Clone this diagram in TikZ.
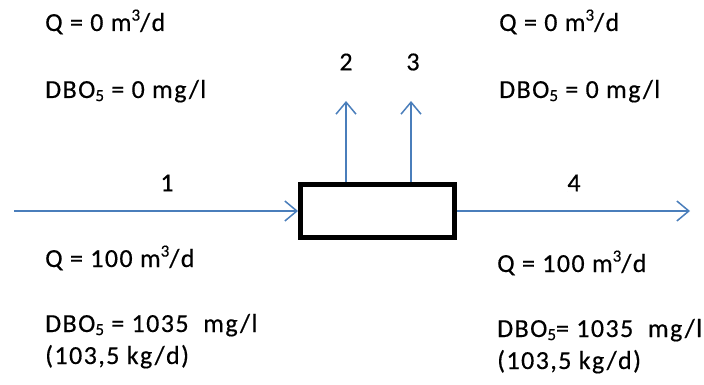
\documentclass[tikz,border=0pt]{standalone}
\usepackage{fontspec}
\setmainfont{Carlito}[LetterSpace=5.5, FakeBold=0.4]
\usetikzlibrary{arrows.meta}
\definecolor{flow}{HTML}{4A7EBB}
\newcommand{\supthree}{\raisebox{0.40em}{\fontsize{17}{18}\selectfont 3}}
\newcommand{\subfive}{\raisebox{-0.12em}{\fontsize{17}{18}\selectfont 5}}
\begin{document}
\begin{tikzpicture}[x=1pt,y=-1pt,
  lbl/.style={font=\fontsize{26}{30}\selectfont, inner sep=0, anchor=base west},
  num/.style={font=\fontsize{26}{30}\selectfont, inner sep=0},
  flowline/.style={draw=flow, line width=1.5pt, -{Straight Barb[length=12pt,width=20pt,line width=1.5pt]}},
  tank/.style={draw=black, line width=5pt, minimum width=154pt, minimum height=53pt, inner sep=0, fill=white}]
\useasboundingbox (0,0) rectangle (704,385);
% process box
\node[tank] (box) at (377.5,211) {};
% free ends
\coordinate (in) at (14,211);
\coordinate (out) at (690,211);
\coordinate (t2) at (346,101);
\coordinate (t3) at (411,101);
% connectors
\draw[flowline] (in) -- (box.west);
\draw[flowline] (box.east) -- (out);
\draw[flowline] (box.north -| t2) -- (t2);
\draw[flowline] (box.north -| t3) -- (t3);
% stream numbers
\node[num] (n1) at (167,183) {1};
\node[num] (n2) at (346,62) {2};
\node[num] (n3) at (413,62) {3};
\node[num] (n4) at (574,183) {4};
% top left
\node[lbl] (q2) at (45,31) {Q = 0 m\supthree/d};
\node[lbl] (d2) at (45,98) {DBO\subfive{} = 0 mg/l};
% top right
\node[lbl] (q3) at (499,31) {Q = 0 m\supthree/d};
\node[lbl] (d3) at (499,98) {DBO\subfive{} = 0 mg/l};
% bottom left
\node[lbl] (q1) at (45,267) {Q = 100 m\supthree/d};
\node[lbl] (d1) at (45,332) {DBO\subfive{} = 1035~ mg/l};
\node[lbl] (k1) at (45,364) {(103,5 kg/d)};
% bottom right
\node[lbl] (q4) at (497,272) {Q = 100 m\supthree/d};
\node[lbl] (d4) at (497,337) {DBO\subfive{}= 1035~ mg/l};
\node[lbl] (k4) at (497,369) {(103,5 kg/d)};
\end{tikzpicture}
\end{document}
